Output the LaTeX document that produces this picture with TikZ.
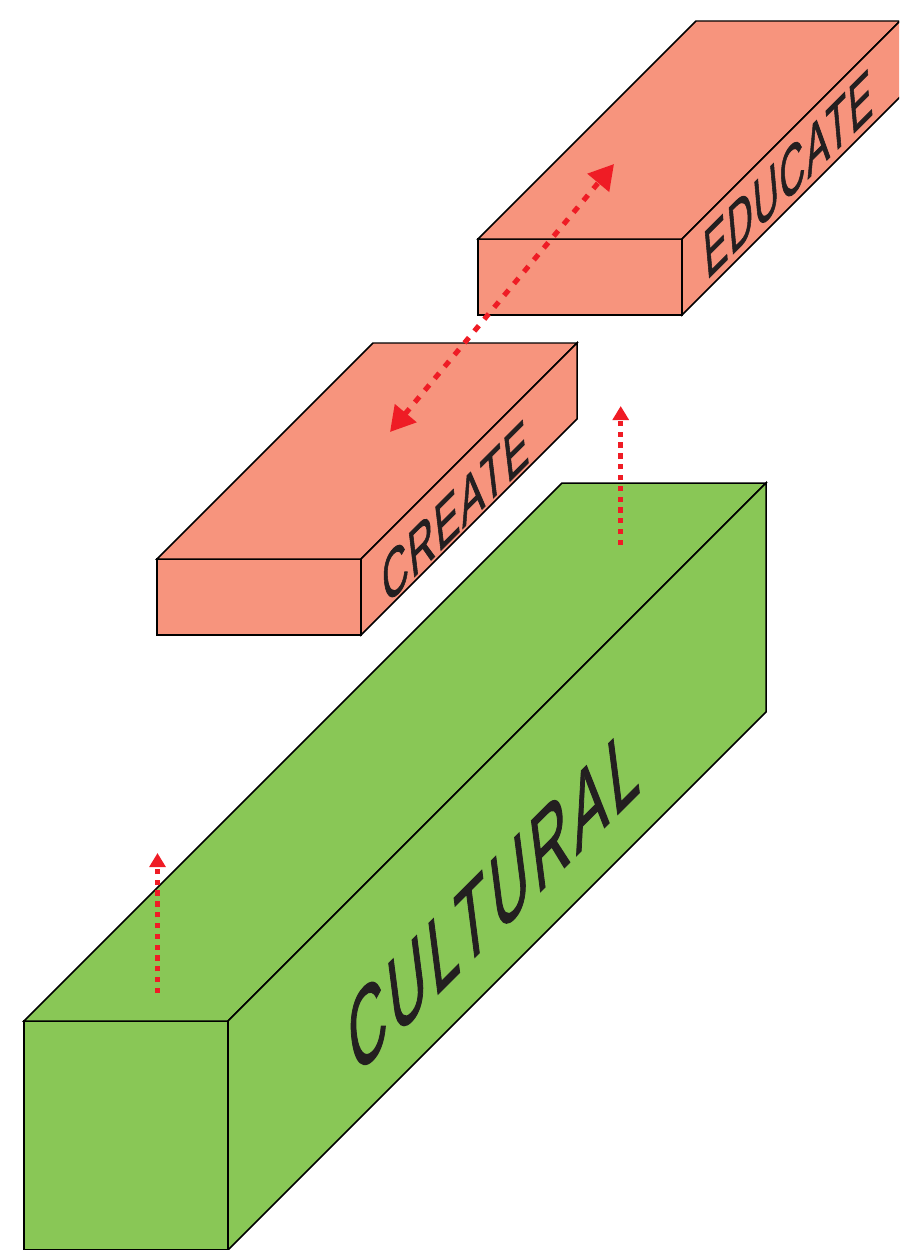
\documentclass[tikz,border=0pt]{standalone}
\usepackage{fontspec}
\setmainfont{Liberation Sans}
\newfontfamily\labelfont{Liberation Sans}[FakeBold=1.5]
\usetikzlibrary{arrows.meta}
\definecolor{boxGreen}{RGB}{137,199,86}
\definecolor{boxSalmon}{RGB}{247,148,125}
\definecolor{arrowRed}{RGB}{239,28,37}
\definecolor{labelInk}{RGB}{35,31,32}
\tikzset{
  boxface/.style={draw=black,line width=0.85pt,line join=miter},
  smalldots/.style={draw=arrowRed,line width=3pt,dash pattern=on 3pt off 3.15pt,-{Triangle[length=8pt,width=9pt]}},
  bigdots/.style={draw=arrowRed,line width=2.9pt,dash pattern=on 4pt off 4.8pt,{Triangle[length=14pt,width=15.5pt]}-{Triangle[length=14pt,width=15.5pt]}},
  boxlabel/.style={text=labelInk,inner sep=0pt}
}
\begin{document}
\begin{tikzpicture}[x=0.02cm,y=-0.02cm]
\useasboundingbox (0,0) rectangle (899,1250);
\begin{scope}
  \clip (0,0) rectangle (899,1250);
  \foreach \fx/\fy/\fh/\fd/\boxcol in {24/1021/229/538/boxGreen,157/559/76/216/boxSalmon,478/239/76/218/boxSalmon} {
    \draw[boxface,fill=\boxcol] (\fx,\fy) rectangle ++(204,\fh);
    \draw[boxface,fill=\boxcol] (\fx,\fy) -- ++(\fd,-\fd) -- ++(204,0) -- ++(-\fd,\fd) -- cycle;
    \draw[boxface,fill=\boxcol] (\fx+204,\fy) -- ++(\fd,-\fd) -- ++(0,\fh) -- ++(-\fd,\fd) -- cycle;
  }
\end{scope}
\node[boxlabel,font=\labelfont\fontsize{50}{50}\selectfont\addfontfeatures{LetterSpace=9},cm={0.56,0.56,-0.15,1.17,(0,0)}] (cultural) at (493,899) {CULTURAL};
\node[boxlabel,font=\labelfont\fontsize{36}{36}\selectfont\addfontfeatures{LetterSpace=5},cm={0.54,0.54,-0.12,1,(0,0)}] (create) at (455,512) {CREATE};
\node[boxlabel,font=\labelfont\fontsize{38}{38}\selectfont\addfontfeatures{LetterSpace=5},cm={0.5,0.5,-0.09,1,(0,0)}] (educate) at (788,174) {EDUCATE};
\coordinate (link a) at (390,432);
\coordinate (link b) at (614,164);
\coordinate (rise a from) at (620.7,545);
\coordinate (rise a to) at (620.7,406);
\coordinate (rise b from) at (157.5,993);
\coordinate (rise b to) at (157.5,853);
\draw[bigdots] (link a) -- (link b);
\draw[smalldots] (rise a from) -- (rise a to);
\draw[smalldots] (rise b from) -- (rise b to);
\end{tikzpicture}
\end{document}
